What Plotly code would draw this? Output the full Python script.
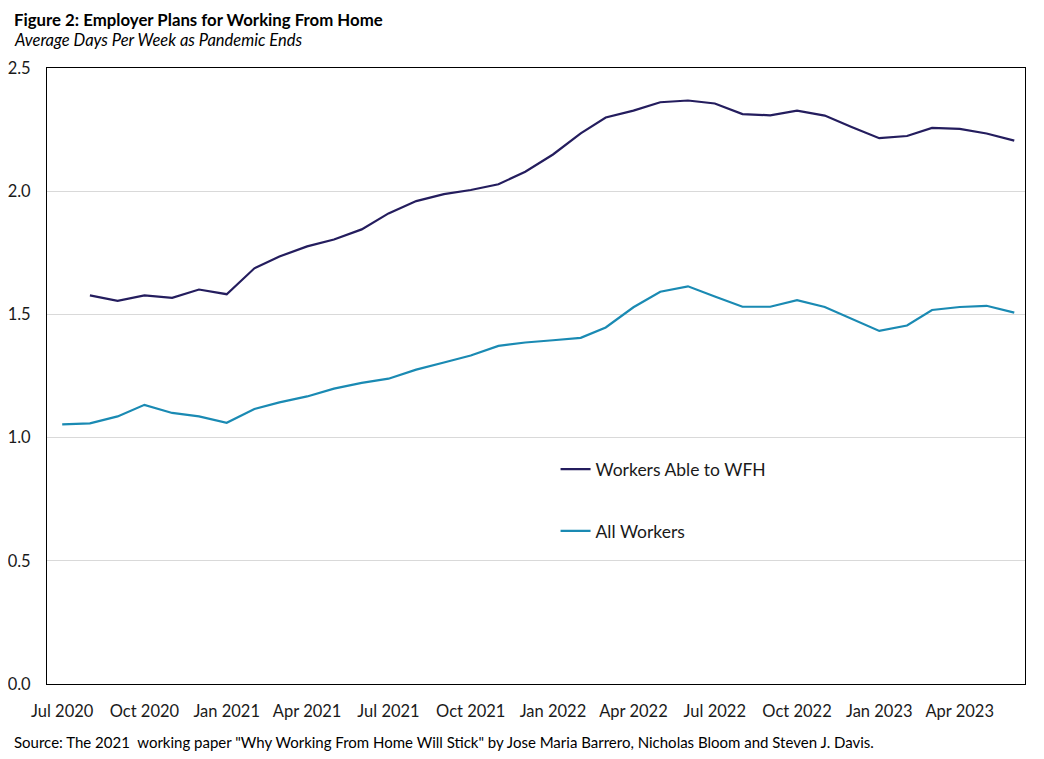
import plotly.graph_objects as go

months = ["2020-07-01", "2020-08-01", "2020-09-01", "2020-10-01", "2020-11-01", "2020-12-01",
          "2021-01-01", "2021-02-01", "2021-03-01", "2021-04-01", "2021-05-01", "2021-06-01",
          "2021-07-01", "2021-08-01", "2021-09-01", "2021-10-01", "2021-11-01", "2021-12-01",
          "2022-01-01", "2022-02-01", "2022-03-01", "2022-04-01", "2022-05-01", "2022-06-01",
          "2022-07-01", "2022-08-01", "2022-09-01", "2022-10-01", "2022-11-01", "2022-12-01",
          "2023-01-01", "2023-02-01", "2023-03-01", "2023-04-01", "2023-05-01", "2023-06-01"]

able_wfh = [None, 1.577, 1.555, 1.577, 1.567, 1.601,
            1.582, 1.687, 1.735, 1.776, 1.804, 1.845,
            1.910, 1.960, 1.988, 2.005, 2.028, 2.079,
            2.149, 2.235, 2.299, 2.327, 2.361, 2.368,
            2.356, 2.313, 2.308, 2.327, 2.307, 2.261,
            2.215, 2.224, 2.257, 2.253, 2.234, 2.205]

all_workers = [1.054, 1.058, 1.086, 1.133, 1.100, 1.086,
               1.060, 1.116, 1.143, 1.167, 1.199, 1.222,
               1.239, 1.276, 1.305, 1.333, 1.372, 1.386,
               1.395, 1.405, 1.447, 1.529, 1.592, 1.614,
               1.573, 1.531, 1.531, 1.558, 1.530, 1.481,
               1.433, 1.455, 1.518, 1.530, 1.535, 1.507]

tick_dates = ["2020-07-01", "2020-10-01", "2021-01-01", "2021-04-01", "2021-07-01", "2021-10-01",
              "2022-01-01", "2022-04-01", "2022-07-01", "2022-10-01", "2023-01-01", "2023-04-01"]
tick_labels = ["Jul 2020", "Oct 2020", "Jan 2021", "Apr 2021", "Jul 2021", "Oct 2021",
               "Jan 2022", "Apr 2022", "Jul 2022", "Oct 2022", "Jan 2023", "Apr 2023"]

FONT = "Lato"

fig = go.Figure()
fig.add_trace(go.Scatter(x=months, y=able_wfh, mode="lines", name="Workers Able to WFH",
                         legendgroup="a", line=dict(color="#241d5e", width=2.2)))
fig.add_trace(go.Scatter(x=months, y=all_workers, mode="lines", name="All Workers",
                         legendgroup="b", line=dict(color="#1a8ab3", width=2.2)))

# page body adds an 8px margin, so the figure is a bit smaller than the window
fig.update_layout(
    width=1036, height=751,
    margin=dict(l=39, r=19, t=60, b=75),
    paper_bgcolor="white", plot_bgcolor="white",
    font=dict(family=FONT, size=16, color="#1a1a1a"),
    showlegend=True,
    legend=dict(x=0.52, y=0.378, xanchor="left", yanchor="top",
                bgcolor="rgba(0,0,0,0)", tracegroupgap=36,
                traceorder="grouped", font=dict(size=17.5)),
    xaxis=dict(type="date", range=["2020-06-14", "2023-06-13"],
               tickvals=tick_dates, ticktext=tick_labels, tickfont=dict(size=16.5),
               showgrid=False, ticks="", showline=True, linecolor="#000000",
               linewidth=1, mirror=True, ticklabelstandoff=12, automargin=False),
    yaxis=dict(range=[0, 2.5], dtick=0.5, tickformat=".1f", tickfont=dict(size=16.5),
               showgrid=True, gridcolor="#d9d9d9", gridwidth=1,
               zeroline=False, ticks="", showline=True, linecolor="#000000",
               linewidth=1, mirror=True, ticklabelstandoff=12, automargin=False),
    annotations=[
        dict(text="<b>Figure 2: Employer Plans for Working From Home</b>", xref="paper", yref="paper",
             x=-0.036, y=1.079, xanchor="left", yanchor="middle", showarrow=False,
             font=dict(size=16.8, color="#000000")),
        dict(text="<i>Average Days Per Week as Pandemic Ends</i>", xref="paper", yref="paper",
             x=-0.036, y=1.045, xanchor="left", yanchor="middle", showarrow=False,
             font=dict(size=16.5, color="#000000")),
        dict(text='Source: The 2021  working paper "Why Working From Home Will Stick" by Jose Maria Barrero, Nicholas Bloom and Steven J. Davis.',
             xref="paper", yref="paper", x=-0.036, y=-0.094, xanchor="left", yanchor="middle",
             showarrow=False, font=dict(size=15, color="#000000")),
    ],
)

fig.write_html("out.html")
